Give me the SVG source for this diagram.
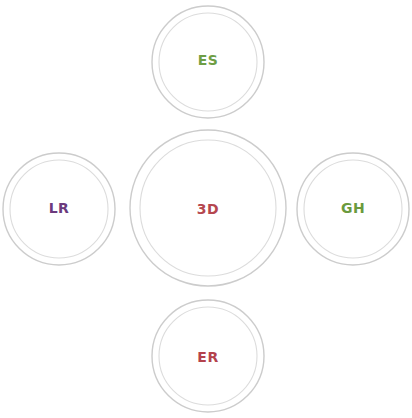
<svg xmlns="http://www.w3.org/2000/svg" width="412" height="418" viewBox="0 0 412 418">
<style>
.outer{fill:#fff;stroke:#cccccc;stroke-width:1.4}
.inner{fill:#fff;stroke:#dcdcdc;stroke-width:1.1}
.lbl{font-family:"DejaVu Sans",sans-serif;font-weight:bold;font-size:14px;text-anchor:middle;dominant-baseline:central;letter-spacing:0.5px}
</style>
<rect width="412" height="418" fill="#fff"/>
<g id="connectors"></g>
<g id="node-3D">
<circle class="outer" cx="208" cy="208" r="78" stroke="#bdbdbd"/>
<circle class="inner" cx="208" cy="208" r="68"/>
<text class="lbl" x="208" y="209" fill="#b5474f">3D</text>
</g>
<g id="node-ES">
<circle class="outer" cx="208" cy="62" r="56"/>
<circle class="inner" cx="208" cy="62" r="49"/>
<text class="lbl" x="208" y="60" fill="#6e9e45">ES</text>
</g>
<g id="node-LR">
<circle class="outer" cx="59" cy="209" r="56"/>
<circle class="inner" cx="59" cy="209" r="49"/>
<text class="lbl" x="59" y="208" fill="#6b3a7d">LR</text>
</g>
<g id="node-GH">
<circle class="outer" cx="353" cy="209" r="56"/>
<circle class="inner" cx="353" cy="209" r="49"/>
<text class="lbl" x="353" y="208" fill="#6a9a3e">GH</text>
</g>
<g id="node-ER">
<circle class="outer" cx="208" cy="356" r="56"/>
<circle class="inner" cx="208" cy="356" r="49"/>
<text class="lbl" x="208" y="357" fill="#b4424c">ER</text>
</g>
</svg>
